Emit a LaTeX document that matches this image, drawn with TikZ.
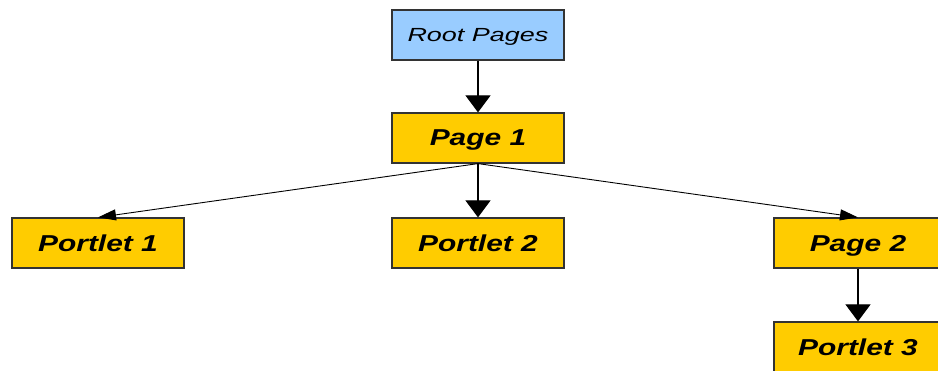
\documentclass[tikz,border=0pt]{standalone}
\usepackage{fontspec}
\setmainfont{Liberation Sans}
\usetikzlibrary{arrows.meta}
\definecolor{rootblue}{RGB}{153,204,255}
\definecolor{pagegold}{RGB}{255,204,0}
\tikzstyle{rootbox}=[rectangle,draw=black!80,fill=rootblue,line width=1.2pt,
                     inner sep=0pt,minimum width=172pt,minimum height=50pt,
                     text depth=0pt,
                     font=\fontsize{19}{22}\selectfont\itshape]
\tikzstyle{pagebox}=[rectangle,draw=black!80,fill=pagegold,line width=1.2pt,
                     inner sep=0pt,minimum width=172pt,minimum height=50pt,
                     text depth=0pt,
                     font=\fontsize{23}{26}\selectfont\bfseries\itshape]
\tikzstyle{downlink}=[line width=1.1pt,-{Triangle[length=17pt,width=25pt]}]
\tikzstyle{sidelink}=[line width=0.9pt,-{Triangle[length=18pt,width=11pt]}]
\newcommand{\wide}[2][1.3]{\scalebox{#1}[1]{#2}}

\begin{document}
\begin{tikzpicture}[x=1pt,y=-1pt]
    \clip (0,0) rectangle (938,371);
    \node (root)     at (478, 35) [rootbox]{\wide[1.42]{Root Pages}};
    \node (page1)    at (478,138) [pagebox]{\wide{Page 1}};
    \node (portlet1) at ( 98,243) [pagebox]{\wide{Portlet 1}};
    \node (portlet2) at (478,243) [pagebox]{\wide{Portlet 2}};
    \node (page2)    at (858,243) [pagebox,minimum width=168pt]{\wide{Page 2}};
    \node (portlet3) at (858,347) [pagebox,minimum width=168pt]{\wide{Portlet 3}};
    \draw[downlink] (root) -- (page1);
    \draw[downlink] (page1) -- (portlet2);
    \draw[downlink] (page2) -- (portlet3);
    \draw[sidelink] (page1.south) -- (portlet1.north);
    \draw[sidelink] (page1.south) -- (page2.north);
\end{tikzpicture}
\end{document}
